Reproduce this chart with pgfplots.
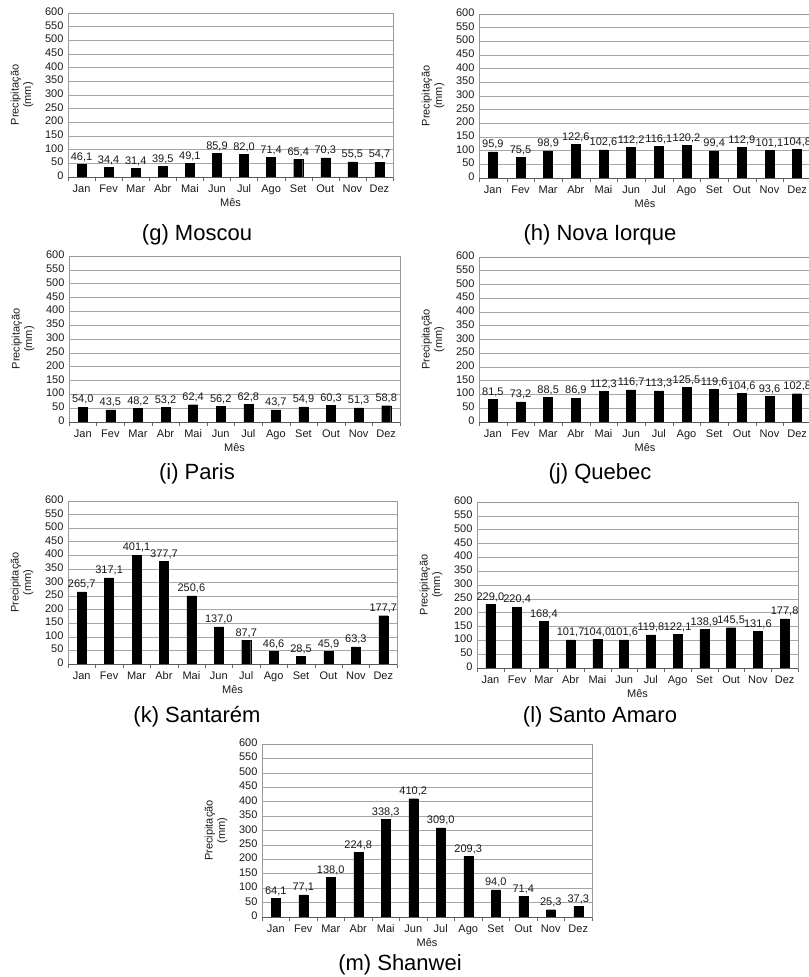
\documentclass[border=0pt]{standalone}
\usepackage{fontspec}
\setmainfont{Liberation Sans}
\usepackage{pgfplots}
\pgfplotsset{compat=1.18}

\newcommand{\chartfont}{\fontsize{11bp}{12.5bp}\selectfont}
\newcommand{\captionfont}{\fontsize{22bp}{25bp}\selectfont}

\pgfplotsset{
  rain/.style={
    scale only axis,
    anchor=north west,
    ybar,
    bar width=9bp,
    ymin=0, ymax=600,
    ytick distance=50,
    xmin=0.5, xmax=12.5,
    xtick={1,...,12},
    xticklabels={Jan,Fev,Mar,Abr,Mai,Jun,Jul,Ago,Set,Out,Nov,Dez},
    typeset ticklabels with strut,
    minor xtick={0.5,1.5,...,12.5},
    major x tick style={draw=none},
    ytick style={draw=none},
    minor tick length=4bp,
    xtick align=outside,
    minor x tick style={draw=black!60},
    tick pos=left,
    ymajorgrids,
    grid style={draw=black!35, line width=0.6pt},
    axis line style={draw=black!40, line width=0.6pt},
    tick label style={font=\chartfont, text=black!90},
    /pgf/number format/assume math mode=true,
    yticklabel style={xshift=-1bp},
    xticklabel style={yshift=1bp},
    xlabel={Mês},
    ylabel={Precipitação\\(mm)},
    label style={font=\chartfont, text=black!90},
    ylabel style={align=center},
    xlabel style={yshift=5bp},
    ylabel shift=5bp,
    nodes near coords,
    nodes near coords style={font=\chartfont, text=black!90, inner sep=2.5bp,
      /pgf/number format/.cd, fixed, fixed zerofill, precision=1, use comma},
    after end axis/.code={
      \draw[black!65, line width=0.6pt] (rel axis cs:0,0) -- (rel axis cs:1,0);
    },
  },
  rainbars/.style={fill=black, draw=black},
}

\begin{document}
\begin{tikzpicture}
\useasboundingbox (0,0) rectangle (809bp,-977bp);

% Moscou
\begin{axis}[rain, at={(68bp,-13bp)}, width=325bp, height=164bp]
\addplot[rainbars] coordinates {(1,46.1) (2,34.4) (3,31.4) (4,39.5) (5,49.1) (6,85.9) (7,82.0) (8,71.4) (9,65.4) (10,70.3) (11,55.5) (12,54.7)};
\end{axis}

% Nova Iorque
\begin{axis}[rain, at={(479bp,-14bp)}, width=332bp, height=164bp]
\addplot[rainbars] coordinates {(1,95.9) (2,75.5) (3,98.9) (4,122.6) (5,102.6) (6,112.2) (7,116.1) (8,120.2) (9,99.4) (10,112.9) (11,101.1) (12,104.8)};
\end{axis}

\node[font=\captionfont] at (197bp,-235bp) {(g) Moscou};
\node[font=\captionfont] at (600bp,-235bp) {(h) Nova Iorque};

% Paris
\begin{axis}[rain, at={(69bp,-256bp)}, width=331bp, height=166bp]
\addplot[rainbars] coordinates {(1,54.0) (2,43.5) (3,48.2) (4,53.2) (5,62.4) (6,56.2) (7,62.8) (8,43.7) (9,54.9) (10,60.3) (11,51.3) (12,58.8)};
\end{axis}

% Quebec
\begin{axis}[rain, at={(479bp,-257bp)}, width=332bp, height=165bp]
\addplot[rainbars] coordinates {(1,81.5) (2,73.2) (3,88.5) (4,86.9) (5,112.3) (6,116.7) (7,113.3) (8,125.5) (9,119.6) (10,104.6) (11,93.6) (12,102.8)};
\end{axis}

\node[font=\captionfont] at (197bp,-474bp) {(i) Paris};
\node[font=\captionfont] at (600bp,-474bp) {(j) Quebec};

% Santarém
\begin{axis}[rain, at={(68bp,-501bp)}, width=329bp, height=163bp]
\addplot[rainbars] coordinates {(1,265.7) (2,317.1) (3,401.1) (4,377.7) (5,250.6) (6,137.0) (7,87.7) (8,46.6) (9,28.5) (10,45.9) (11,63.3) (12,177.7)};
\end{axis}

% Santo Amaro
\begin{axis}[rain, at={(477bp,-502bp)}, width=321bp, height=166bp]
\addplot[rainbars] coordinates {(1,229.0) (2,220.4) (3,168.4) (4,101.7) (5,104.0) (6,101.6) (7,119.8) (8,122.1) (9,138.9) (10,145.5) (11,131.6) (12,177.8)};
\end{axis}

\node[font=\captionfont] at (197bp,-717bp) {(k) Santarém};
\node[font=\captionfont] at (600bp,-717bp) {(l) Santo Amaro};

% Shanwei
\begin{axis}[rain, at={(262bp,-744bp)}, width=330bp, height=173bp]
\addplot[rainbars] coordinates {(1,64.1) (2,77.1) (3,138.0) (4,224.8) (5,338.3) (6,410.2) (7,309.0) (8,209.3) (9,94.0) (10,71.4) (11,25.3) (12,37.3)};
\end{axis}

\node[font=\captionfont] at (400bp,-965bp) {(m) Shanwei};
\end{tikzpicture}
\end{document}
